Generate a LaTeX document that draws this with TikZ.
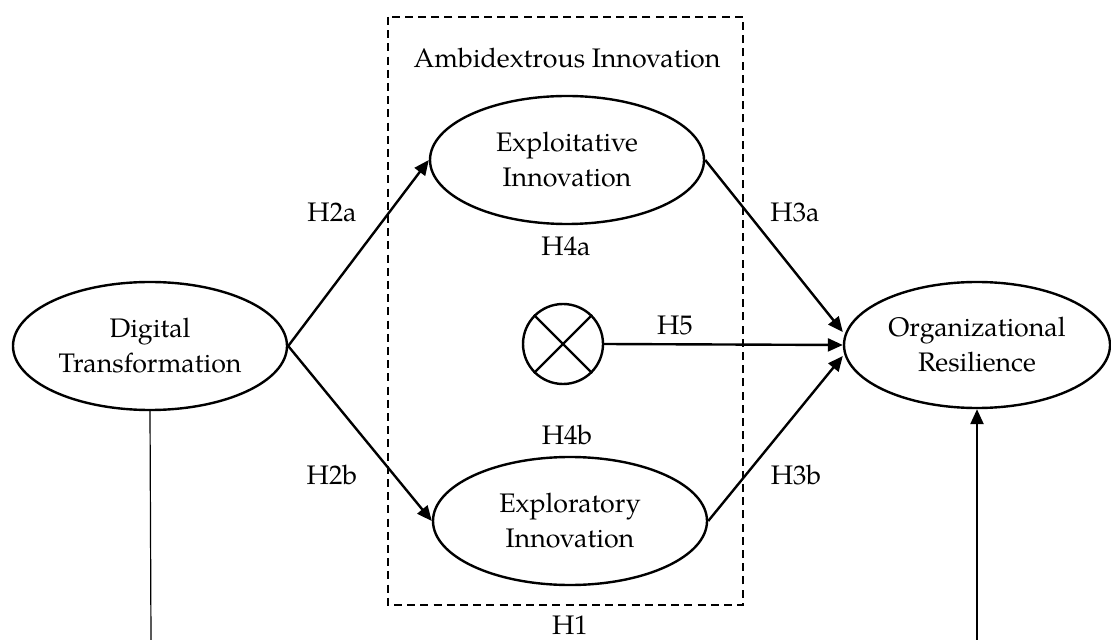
\documentclass[tikz,border=0pt]{standalone}
\usepackage{fontspec}
\setmainfont{TeX Gyre Pagella}
\usetikzlibrary{shapes.geometric,arrows.meta}
\begin{document}
\begin{tikzpicture}[x=0.5pt,y=-0.5pt,
  every node/.style={font=\fontsize{13.4}{17.5}\selectfont},
  latent/.style={ellipse,draw,line width=1.2pt,inner sep=0pt,minimum width=137pt,minimum height=64pt,align=center},
  arr/.style={line width=1.2pt,-{Triangle[length=7.5pt,width=6.5pt]}},
  lbl/.style={inner sep=0pt},
  box/.style={draw,line width=1.2pt,dash pattern=on 4pt off 2.6pt}]
\useasboundingbox (0,0) rectangle (1111,640);
% dashed box
\draw[box] (388,17) rectangle (743,605);
\node[lbl] (amb) at (567,58) {Ambidextrous Innovation};
% nodes
\node[latent] (DT) at (150,346) {Digital\\Transformation};
\node[latent] (EI) at (567,160) {Exploitative\\Innovation};
\node[latent] (ER) at (570,521) {Exploratory\\Innovation};
\node[latent,minimum width=133pt,minimum height=63pt] (OR) at (977,345) {Organizational\\Resilience};
\node[circle,draw,line width=1.2pt,minimum size=40pt,inner sep=0pt] (X) at (563,344) {};
\draw[line width=1.2pt] (X.north east) -- (X.south west) (X.north west) -- (X.south east);
% bottom coordinates
\coordinate (bl) at (151,640);
\coordinate (br) at (OR.south |- bl);
% connectors
\draw[arr] (DT.east) -- (EI.west);
\draw[arr] (DT.east) -- (ER.west);
\draw[arr] (EI.east) -- ([yshift=6.5pt]OR.west);
\draw[arr] (X.east) -- (OR.west);
\draw[arr] (ER.east) -- ([yshift=-5.5pt]OR.west);
\draw[line width=0.6pt] (DT.south) -- (bl);
\draw[arr] (br) -- (OR.south);
% labels
\node[lbl] (h2a) at (332,212) {H2a};
\node[lbl] (h2b) at (332,475) {H2b};
\node[lbl] (h3a) at (795,212) {H3a};
\node[lbl] (h3b) at (796,475) {H3b};
\node[lbl] (h4a) at (566,246) {H4a};
\node[lbl] (h4b) at (567,435) {H4b};
\node[lbl] (h5) at (675,325) {H5};
\node[lbl] (h1) at (570,625) {H1};
\end{tikzpicture}
\end{document}
